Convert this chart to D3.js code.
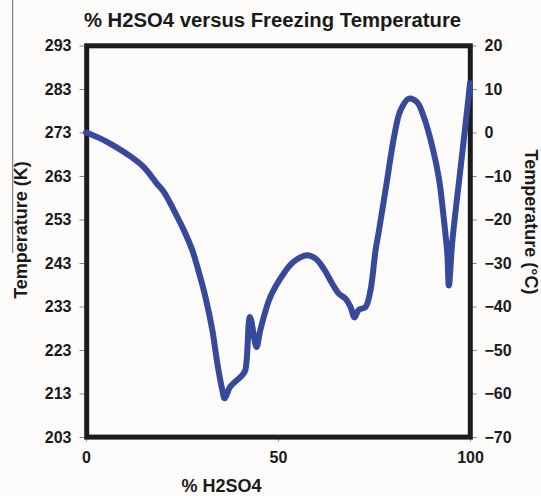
<!DOCTYPE html>
<html><head><meta charset="utf-8">
<script src="https://cdn.jsdelivr.net/npm/d3@7"></script>
<style>
html,body{margin:0;padding:0;background:#fdfcfb;}
svg{display:block;}
text{font-family:"Liberation Sans",Arial,sans-serif;font-weight:bold;fill:#1a1a1a;}
</style></head>
<body><svg id="chart" width="541" height="496"></svg>
<script>
const title = "% H2SO4 versus Freezing Temperature";
const xTitle = "% H2SO4";
const yTitleLeft = "Temperature (K)";
const yTitleRight = "Temperature (°C)";
const xTicks = [0, 50, 100];
const kTicks = [203, 213, 223, 233, 243, 253, 263, 273, 283, 293];
const cTicks = [-70, -60, -50, -40, -30, -20, -10, 0, 10, 20];
const pct = [0, 3.8, 7.2, 11.6, 15.1, 18.5, 20.3, 22.9, 25.5, 27.7, 29.0, 31.1, 32.9, 34.2, 35.5, 36.1, 37.6, 40.7, 41.5, 42.7, 44.4, 45.4, 48.0, 51.5, 54.1, 57.6, 59.8, 61.9, 64.1, 65.8, 67.6, 68.9, 69.9, 71.0, 72.8, 74.1, 75.4, 76.3, 78.4, 80.2, 81.9, 84.1, 86.2, 88.0, 90.2, 91.9, 93.2, 94.1, 94.5, 95.4, 97.5, 99.3, 100];
const kelvin = [273, 271.6, 270.0, 267.5, 265.0, 261.2, 259.3, 255.1, 250.5, 245.9, 242.1, 235.2, 227.6, 219.9, 213.8, 211.9, 214.6, 217.2, 218.4, 230.6, 223.7, 227.6, 235.2, 240.6, 243.3, 244.8, 244.0, 241.7, 238.3, 236.0, 234.8, 232.9, 230.5, 232.2, 232.9, 236.8, 245.9, 250.5, 262.0, 271.9, 278.1, 280.8, 280.0, 276.5, 269.7, 262.5, 253.0, 245.0, 237.8, 248.0, 264.5, 278.5, 284.3];

const svg = d3.select("#chart");
const L = 86, R = 470, T = 45.5, B = 437;
const x = d3.scaleLinear().domain([0, 100]).range([L, R]);
const yK = d3.scaleLinear().domain([203, 293]).range([B, T]);
const yC = d3.scaleLinear().domain([-70, 20]).range([B, T]);

svg.append("rect").attr("width", 541).attr("height", 496).attr("fill", "#fdfcfb");

// stray thin line at left
svg.append("line").attr("x1", 12.7).attr("x2", 12.7).attr("y1", 0).attr("y2", 253)
  .attr("stroke", "#666").attr("stroke-width", 1);

// axes
const left = svg.append("g").attr("transform", `translate(${L - 0.5},0)`)
  .call(d3.axisLeft(yK).tickValues(kTicks).tickSize(6).tickPadding(8));
const right = svg.append("g").attr("transform", `translate(${R + 0.5},0)`)
  .call(d3.axisRight(yC).tickValues(cTicks).tickSize(6).tickPadding(8));
const bottom = svg.append("g").attr("transform", `translate(0,${B + 0.5})`)
  .call(d3.axisBottom(x).tickValues(xTicks).tickSize(4).tickPadding(10));
[left, right, bottom].forEach(g => {
  g.select(".domain").remove();
  g.selectAll(".tick line").attr("stroke", "#888");
  g.selectAll(".tick text").attr("font-size", 16).attr("font-weight", "bold")
    .attr("font-family", "Liberation Sans, Arial, sans-serif").attr("fill", "#1a1a1a");
});

// frame
svg.append("rect").attr("x", L + 0.7).attr("y", T + 0.3).attr("width", R - L - 0.4).attr("height", B - T - 0.2)
  .attr("fill", "none").attr("stroke", "#1c1c1c").attr("stroke-width", 5);

// curve
const line = d3.line().x(d => x(d[0])).y(d => yK(d[1])).curve(d3.curveCatmullRom.alpha(0.5));
const pts = pct.map((p, i) => [p, kelvin[i]]);
svg.append("path").datum(pts).attr("d", line)
  .attr("fill", "none").attr("stroke", "#37499b").attr("stroke-width", 6)
  .attr("stroke-linejoin", "round").attr("stroke-linecap", "round");

// titles
svg.append("text").attr("x", 272.5).attr("y", 27).attr("text-anchor", "middle")
  .attr("font-size", 20.3).text(title);
svg.append("text").attr("x", 221.5).attr("y", 492).attr("text-anchor", "middle")
  .attr("font-size", 18).text(xTitle);
svg.append("text").attr("transform", "translate(27,230) rotate(-90)").attr("text-anchor", "middle")
  .attr("font-size", 18).text(yTitleLeft);
svg.append("text").attr("transform", "translate(524.5,222) rotate(90)").attr("text-anchor", "middle")
  .attr("font-size", 18).text(yTitleRight);
</script></body></html>
